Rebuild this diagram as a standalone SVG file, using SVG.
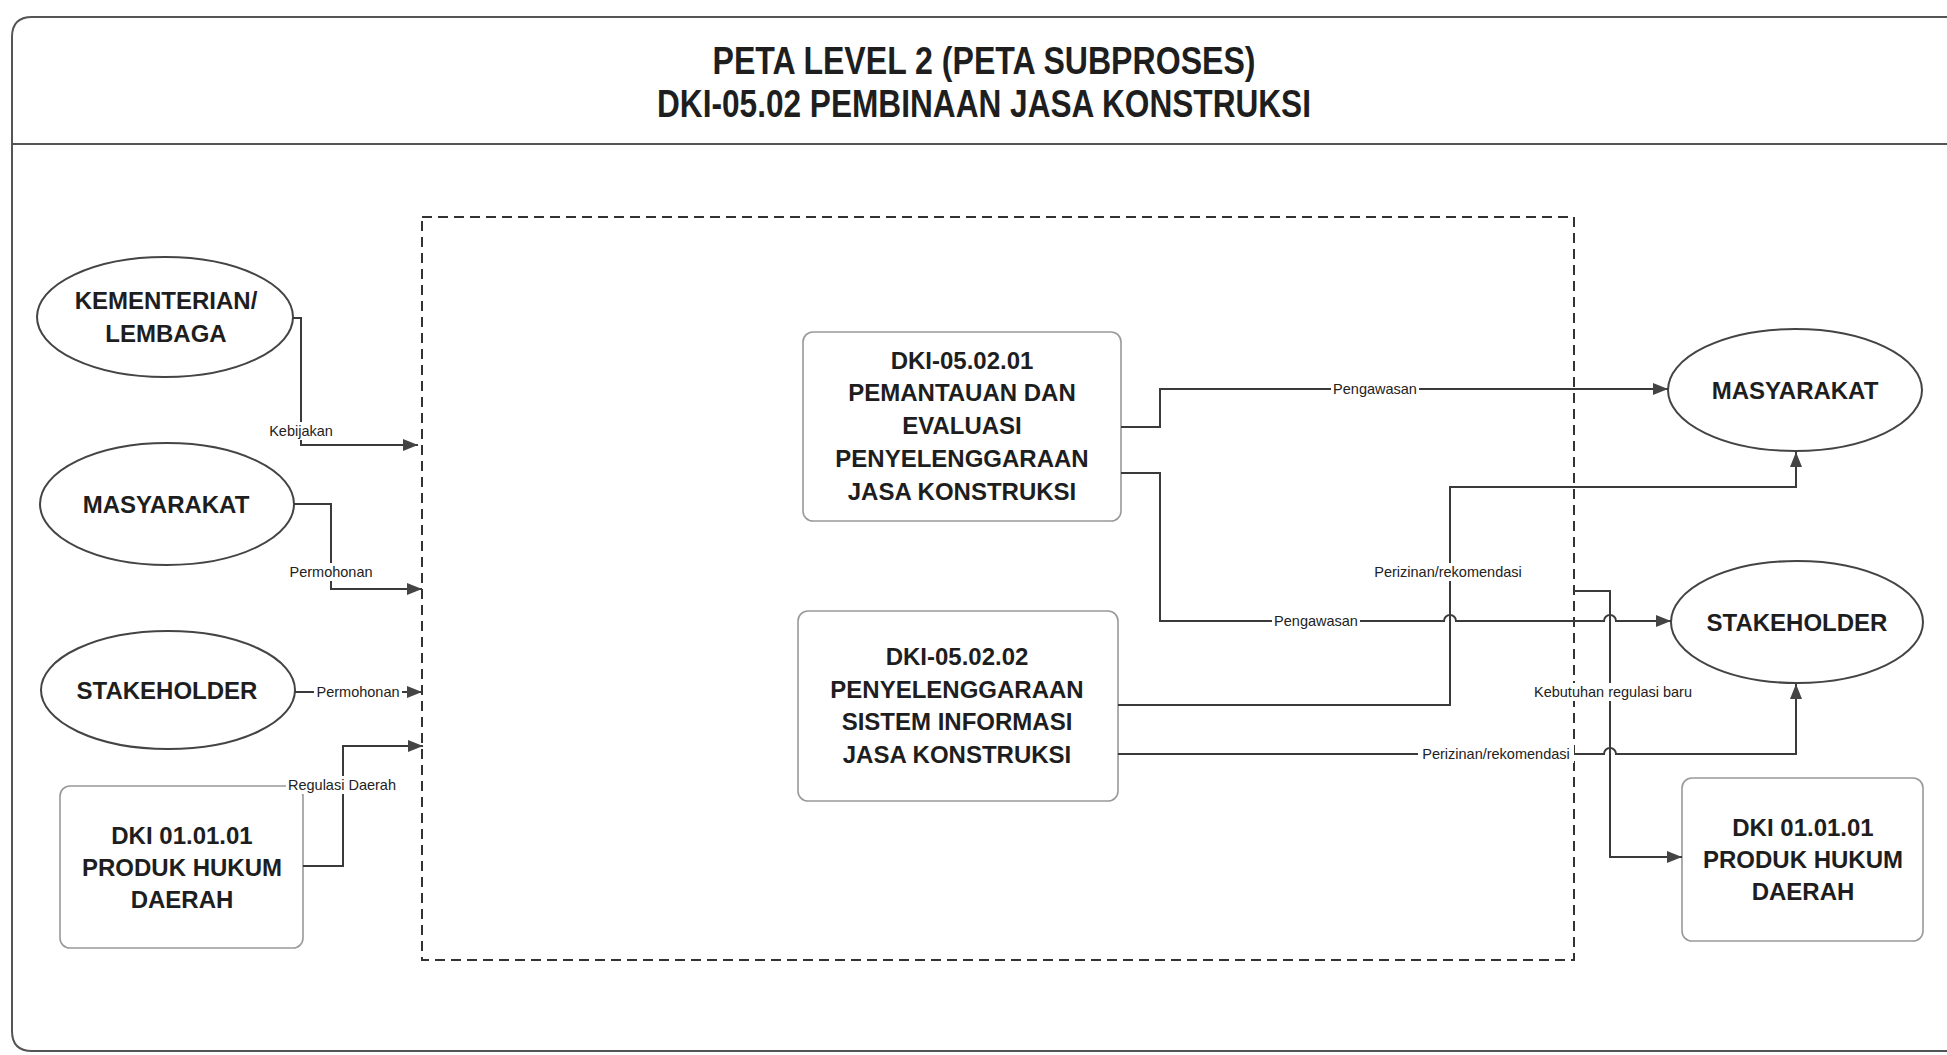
<svg xmlns="http://www.w3.org/2000/svg" width="1947" height="1055" viewBox="0 0 1947 1055">
<style>
.frame{fill:none;stroke:#555;stroke-width:2}
.ell{fill:#fff;stroke:#444;stroke-width:2}
.box{fill:#fff;stroke:#999;stroke-width:1.6}
.nt{font-family:"Liberation Sans",Arial,sans-serif;font-weight:bold;font-size:24px;fill:#1e1e1e;text-anchor:middle}
.title{font-family:"Liberation Sans",Arial,sans-serif;font-weight:bold;font-size:38px;fill:#1e1e1e;text-anchor:middle}
.con{fill:none;stroke:#3a3a3a;stroke-width:2}
.lbl{font-family:"Liberation Sans",Arial,sans-serif;font-size:14.5px;fill:#222;text-anchor:middle}
.lb{fill:#fff;stroke:none}
</style>
<defs>
<marker id="arr" markerUnits="userSpaceOnUse" markerWidth="16" markerHeight="14" refX="15" refY="6" orient="auto">
<path d="M0,0 L15,6 L0,12 z" fill="#444"/>
</marker>
</defs>
<rect width="1947" height="1055" fill="#fff"/>
<g id="frame">
<path class="frame" d="M1947,17 H32 Q12,17 12,37 V1031 Q12,1051 32,1051 H1947"/>
<line class="frame" x1="12" y1="144" x2="1947" y2="144"/>
<text class="title" x="984" y="74" textLength="543" lengthAdjust="spacingAndGlyphs">PETA LEVEL 2 (PETA SUBPROSES)</text>
<text class="title" x="984" y="117" textLength="654" lengthAdjust="spacingAndGlyphs">DKI-05.02 PEMBINAAN JASA KONSTRUKSI</text>
</g>
<g id="boundary">
<rect x="422" y="217" width="1152" height="743" fill="none" stroke="#333" stroke-width="2" stroke-dasharray="10,6"/>
</g>
<g id="kementerian">
<ellipse class="ell" cx="165" cy="317" rx="128" ry="60"/>
<text class="nt" x="166" y="309">KEMENTERIAN/</text>
<text class="nt" x="166" y="342">LEMBAGA</text>
</g>
<g id="masyarakat-in">
<ellipse class="ell" cx="167" cy="504" rx="127" ry="61"/>
<text class="nt" x="166" y="513">MASYARAKAT</text>
</g>
<g id="stakeholder-in">
<ellipse class="ell" cx="168" cy="690" rx="127" ry="59"/>
<text class="nt" x="167" y="699">STAKEHOLDER</text>
</g>
<g id="produk-hukum-in">
<rect class="box" x="60" y="786" width="243" height="162" rx="10"/>
<text class="nt" x="182" y="844">DKI 01.01.01</text>
<text class="nt" x="182" y="876">PRODUK HUKUM</text>
<text class="nt" x="182" y="908">DAERAH</text>
</g>
<g id="sub-05-02-01">
<rect class="box" x="803" y="332" width="318" height="189" rx="10"/>
<text class="nt" x="962" y="369">DKI-05.02.01</text>
<text class="nt" x="962" y="401">PEMANTAUAN DAN</text>
<text class="nt" x="962" y="434">EVALUASI</text>
<text class="nt" x="962" y="467">PENYELENGGARAAN</text>
<text class="nt" x="962" y="500">JASA KONSTRUKSI</text>
</g>
<g id="sub-05-02-02">
<rect class="box" x="798" y="611" width="320" height="190" rx="10"/>
<text class="nt" x="957" y="665">DKI-05.02.02</text>
<text class="nt" x="957" y="698">PENYELENGGARAAN</text>
<text class="nt" x="957" y="730">SISTEM INFORMASI</text>
<text class="nt" x="957" y="763">JASA KONSTRUKSI</text>
</g>
<g id="masyarakat-out">
<ellipse class="ell" cx="1795" cy="390" rx="127" ry="61"/>
<text class="nt" x="1795" y="399">MASYARAKAT</text>
</g>
<g id="stakeholder-out">
<ellipse class="ell" cx="1797" cy="622" rx="126" ry="61"/>
<text class="nt" x="1797" y="631">STAKEHOLDER</text>
</g>
<g id="produk-hukum-out">
<rect class="box" x="1682" y="778" width="241" height="163" rx="10"/>
<text class="nt" x="1803" y="836">DKI 01.01.01</text>
<text class="nt" x="1803" y="868">PRODUK HUKUM</text>
<text class="nt" x="1803" y="900">DAERAH</text>
</g>
<g id="connectors">
<path class="con" marker-end="url(#arr)" d="M293,318 H301 V445 H418"/>
<path class="con" marker-end="url(#arr)" d="M294,504 H331 V589 H422"/>
<path class="con" marker-end="url(#arr)" d="M295,692 H422"/>
<path class="con" marker-end="url(#arr)" d="M303,866 H343 V746 H423"/>
<path class="con" marker-end="url(#arr)" d="M1121,427 H1160 V389 H1668"/>
<path class="con" marker-end="url(#arr)" d="M1121,473 H1160 V621 H1444 a6,6 0 0 1 12,0 H1604 a6,6 0 0 1 12,0 H1671"/>
<path class="con" marker-end="url(#arr)" d="M1118,705 H1450 V487 H1796 V452"/>
<path class="con" marker-end="url(#arr)" d="M1118,754 H1604 a6,6 0 0 1 12,0 H1796 V684"/>
<path class="con" marker-end="url(#arr)" d="M1574,591 H1610 V857 H1682"/>
<rect class="lb" x="267" y="422" width="68" height="18"/>
<text class="lbl" x="301" y="436">Kebijakan</text>
<rect class="lb" x="287" y="563" width="88" height="18"/>
<text class="lbl" x="331" y="577">Permohonan</text>
<rect class="lb" x="314" y="683" width="88" height="18"/>
<text class="lbl" x="358" y="697">Permohonan</text>
<rect class="lb" x="286" y="776" width="113" height="18"/>
<text class="lbl" x="342" y="790">Regulasi Daerah</text>
<rect class="lb" x="1331" y="380" width="88" height="18"/>
<text class="lbl" x="1375" y="394">Pengawasan</text>
<rect class="lb" x="1272" y="612" width="88" height="18"/>
<text class="lbl" x="1316" y="626">Pengawasan</text>
<rect class="lb" x="1370" y="563" width="156" height="18"/>
<text class="lbl" x="1448" y="577">Perizinan/rekomendasi</text>
<rect class="lb" x="1418" y="745" width="156" height="18"/>
<text class="lbl" x="1496" y="759">Perizinan/rekomendasi</text>
<rect class="lb" x="1530" y="683" width="166" height="18"/>
<text class="lbl" x="1613" y="697">Kebutuhan regulasi baru</text>
</g>
</svg>
